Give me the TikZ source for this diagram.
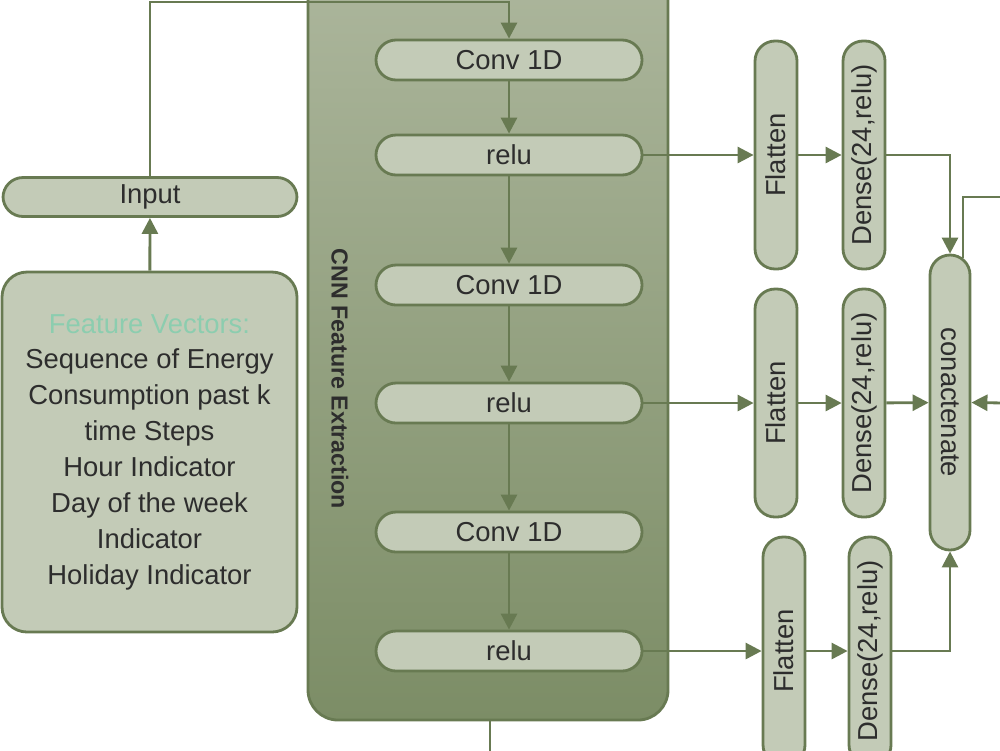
\documentclass[tikz,border=0pt]{standalone}
\usepackage{fontspec}
\setmainfont{Liberation Sans}
\definecolor{cnnline} {RGB}{104,122,82}
\definecolor{cnnpill} {RGB}{195,203,183}
\definecolor{cnntop}  {RGB}{172,182,156}
\definecolor{cnnbot}  {RGB}{124,141,102}
\definecolor{cnnteal} {RGB}{140,205,175}
\definecolor{cnntext} {RGB}{45,45,45}
\usepackage{tikz}
\usetikzlibrary{arrows.meta,positioning}
\tikzset{
  pill/.style={rectangle,rounded corners=2mm,draw=cnnline,fill=cnnpill,
               line width=0.8pt,text=cnntext,inner sep=0pt,
               minimum width=2.66cm,minimum height=0.40cm,
               font=\fontsize{7.8}{9}\selectfont},
  vpill/.style={pill,minimum width=0.42cm,minimum height=2.28cm},
  line/.style={draw=cnnline,line width=0.8pt},
  arr/.style={-{Triangle[length=1.6mm,width=1.6mm]},line,#1},
  arr/.default=cnnline,
}

\begin{document}
\begin{tikzpicture}[
  every node/.style={font=\fontsize{7.8}{9}\selectfont},
  cnnbox/.style={rectangle, rounded corners=3mm, draw=cnnline, line width=0.8pt,
                 top color=cnntop, bottom color=cnnbot,
                 minimum width=3.60cm, minimum height=7.50cm},
  featbox/.style={rectangle, rounded corners=2.5mm, draw=cnnline, fill=cnnpill,
                  line width=0.8pt, text=cnntext, align=center,
                  minimum width=2.95cm, minimum height=3.60cm,
                  font=\fontsize{7.8}{10.2}\selectfont}
]
  \useasboundingbox (0,0) rectangle (10,-7.5);

  % CNN block
  \node[cnnbox] (cnn) at (4.88,-3.45) {};
  \node[font=\bfseries\fontsize{6.6}{8}\selectfont, text=cnntext, rotate=-90]
    (cnnlab) at (3.40,-3.79) {CNN Feature Extraction};

  % Input side
  \node[pill, minimum width=2.94cm, minimum height=0.39cm] (input) at (1.50,-1.97) {Input};
  \node[featbox] (feat) at (1.495,-4.52)
    {{\color{cnnteal}Feature Vectors:}\\Sequence of Energy\\Consumption past k\\
     time Steps\\Hour Indicator\\Day of the week\\Indicator\\Holiday Indicator};

  % Conv / relu stack
  \foreach \n/\t/\y in {conva/Conv 1D/-0.60, relua/relu/-1.55,
                        convb/Conv 1D/-2.85, relub/relu/-4.03,
                        convc/Conv 1D/-5.32, reluc/relu/-6.51} {
    \node[pill] (\n) at (5.09,\y) {\t};
  }
  \foreach \a/\b in {conva/relua, relua/convb, convb/relub, relub/convc, convc/reluc} {
    \draw[arr] (\a) -- (\b);
  }

  % Flatten + Dense branches
  \foreach \r/\fx/\dx/\y in {a/7.76/8.64/-1.55, b/7.76/8.64/-4.03, c/7.84/8.70/-6.51} {
    \node[vpill] (flat\r) at (\fx,\y) {\rotatebox{90}{Flatten}};
    \node[vpill] (dense\r) at (\dx,\y) {\rotatebox{90}{Dense(24,relu)}};
    \draw[arr] (relu\r) -- (flat\r);
    \draw[arr] (flat\r) -- (dense\r);
  }

  \node[vpill, minimum width=0.40cm, minimum height=2.95cm] (concat) at (9.50,-4.025)
    {\rotatebox{-90}{conactenate}};

  \draw[arr] (densea) -| (concat);
  \draw[arr] (denseb) -- (concat);
  \draw[arr] (densec) -| (concat);

  % Loose ends
  \coordinate (topl) at (1.50,-0.02);
  \coordinate (outr) at (10.05,-1.97);
  \coordinate (inr)  at (10.05,-4.03);
  \coordinate (outb) at (4.90,-7.6);

  \draw[arr] (feat) -- (input);
  \draw[arr] (input) -- (topl) -| (conva);
  \draw[line] ([xshift=1.3mm,yshift=-0.48mm]concat.north) |- (outr);
  \draw[arr] (inr) -- (concat.east);
  \draw[line] (cnn.south -| outb) -- (outb);

\end{tikzpicture}
\end{document}
